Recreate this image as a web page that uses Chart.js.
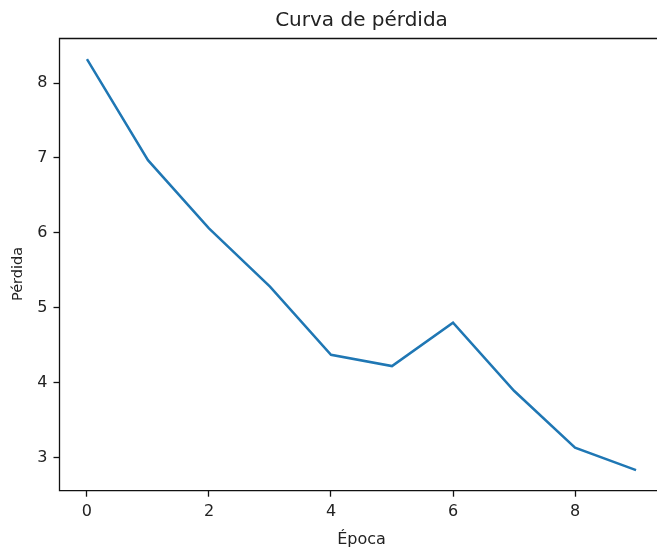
<!DOCTYPE html>
<html>
<head>
<meta charset="utf-8">
<script src="https://cdn.jsdelivr.net/npm/chart.js@4"></script>
<style>
  html, body { margin: 0; padding: 0; background: #fff; overflow: hidden; }
  #wrap { width: 657px; height: 550px; overflow: hidden; position: relative; }
  #chart { position: absolute; left: 0; top: 0; }
</style>
</head>
<body>
<div id="wrap"><canvas id="chart" width="720" height="550"></canvas></div>
<script>
const epocas = [0, 1, 2, 3, 4, 5, 6, 7, 8, 9];
const perdida = [8.32, 6.97, 6.06, 5.28, 4.37, 4.22, 4.80, 3.89, 3.13, 2.83];
const xTicks = [0, 2, 4, 6, 8];
const yTicks = [3, 4, 5, 6, 7, 8];

// margenes como matplotlib (5%)
const margen = (arr) => {
    const lo = Math.min(...arr), hi = Math.max(...arr), d = (hi - lo) * 0.05;
    return [lo - d, hi + d];
};
const [xMin, xMax] = margen(epocas);
const [yMin, yMax] = margen(perdida);

const fuente = 'DejaVu Sans';
const negro = '#222';

// marco de los ejes (el lado derecho queda fuera de la ventana) + etiqueta del eje y
const marco = {
    id: 'marco',
    afterDraw(chart) {
        const { ctx, chartArea: a } = chart;
        ctx.save();
        ctx.strokeStyle = '#111';
        ctx.lineWidth = 1.3;
        ctx.beginPath();
        ctx.moveTo(a.right, a.top);
        ctx.lineTo(a.left, a.top);
        ctx.lineTo(a.left, a.bottom);
        ctx.lineTo(a.right, a.bottom);
        ctx.stroke();
        ctx.translate(18.5, 274);
        ctx.rotate(-Math.PI / 2);
        ctx.fillStyle = negro;
        ctx.font = '14.5px "' + fuente + '"';
        ctx.textAlign = 'center';
        ctx.textBaseline = 'middle';
        ctx.fillText('Pérdida', 0, 0);
        ctx.restore();
    }
};

const ctx = document.getElementById('chart').getContext('2d');
new Chart(ctx, {
    type: 'line',
    data: {
        datasets: [{
            data: epocas.map((e, i) => ({ x: e, y: perdida[i] })),
            borderColor: '#1f77b4',
            borderWidth: 2.5,
            pointRadius: 0,
            tension: 0,
            fill: false
        }]
    },
    options: {
        responsive: false,
        animation: false,
        layout: { padding: { left: 0, right: 56.5, top: 0, bottom: 0 } },
        plugins: {
            legend: { display: false },
            tooltip: { enabled: false },
            title: {
                display: true,
                text: 'Curva de pérdida',
                fullSize: false,
                color: negro,
                font: { family: fuente, size: 20, weight: 'normal' },
                padding: { top: 8.7, bottom: 5.8 }
            }
        },
        scales: {
            x: {
                type: 'linear',
                min: xMin, max: xMax,
                afterBuildTicks: s => { s.ticks = xTicks.map(v => ({ value: v })); },
                afterFit: s => { s.height = 59.3; },
                grid: { drawOnChartArea: false, drawTicks: true, tickLength: 6, tickColor: '#111', tickWidth: 1.3 },
                border: { display: false },
                ticks: { color: negro, padding: 6, font: { family: fuente, size: 16 } },
                title: { display: true, text: 'Época', color: negro, font: { family: fuente, size: 16 }, padding: { top: 0, bottom: 1 } }
            },
            y: {
                min: yMin, max: yMax,
                afterBuildTicks: s => { s.ticks = yTicks.map(v => ({ value: v })); },
                afterFit: s => { s.width = 59.5; },
                grid: { drawOnChartArea: false, drawTicks: true, tickLength: 6, tickColor: '#111', tickWidth: 1.3 },
                border: { display: false },
                ticks: { color: negro, padding: 6, font: { family: fuente, size: 16 } }
            }
        }
    },
    plugins: [marco]
});
</script>
</body>
</html>
